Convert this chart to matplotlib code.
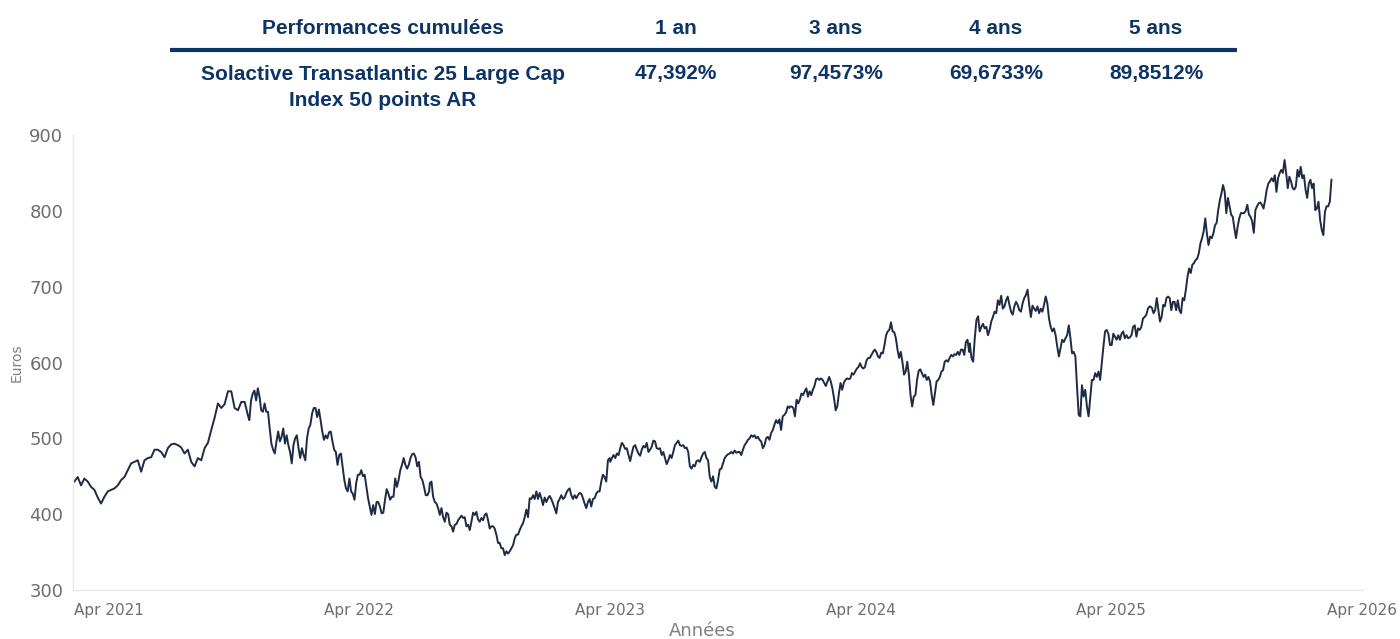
import numpy as np
import pandas as pd
import matplotlib
matplotlib.use('Agg')
from matplotlib import pyplot as plt
from matplotlib.lines import Line2D

# ---- performance table ----
table_title = 'Performances cumulées'
periods = ['1 an', '3 ans', '4 ans', '5 ans']
index_name = ['Solactive Transatlantic 25 Large Cap', 'Index 50 points AR']
perf_values = ['47,392%', '97,4573%', '69,6733%', '89,8512%']

# ---- index level (euros) in pieces ----
seg1_dates = ('2021-04-02', '2021-12-11')
seg1 = [443, 449, 438, 447, 443, 436, 432, 422, 414, 423, 430, 432, 434, 438, 445, 449,
        458, 467, 469, 471, 456, 471, 474, 475, 485, 485, 482, 475, 487, 492, 493, 491,
        488, 480, 485, 469, 463, 474, 471, 487, 494, 511, 527, 546, 540, 545, 562, 562,
        540, 537, 548, 548, 530]

seg2_dates = ('2021-12-13', '2022-09-01')
seg2 = [524, 550, 559, 563, 550, 566, 555, 537, 535, 546, 535, 535, 513, 493, 485, 480,
        496, 509, 496, 502, 513, 493, 504, 491, 482, 467, 491, 500, 504, 487, 474, 487,
        478, 471, 500, 513, 518, 533, 540, 540, 528, 538, 524, 509, 498, 504, 500, 508,
        509, 496, 485, 482, 465, 478, 480, 463, 445, 434, 430, 447, 430, 427, 419, 441,
        452, 452, 458, 450, 452, 436, 421, 410, 399, 412, 400, 416, 416, 410, 401, 402,
        419, 433, 427, 419, 423, 423, 447, 436, 445, 458, 465, 474, 465, 460, 465, 474,
        479, 480, 475, 463, 469, 449, 445, 436, 425, 425, 430]

seg3_dates = ('2022-09-02', '2023-05-22')
seg3 = [441, 443, 423, 416, 414, 408, 399, 408, 396, 390, 402, 400, 386, 384, 377, 386,
        387, 392, 395, 398, 395, 396, 384, 386, 379, 390, 402, 399, 403, 393, 390, 395,
        392, 399, 401, 392, 381, 384, 384, 381, 373, 362, 362, 355, 355, 346, 351, 348,
        351, 355, 359, 368, 373, 373, 379, 384, 388, 396, 406, 396, 421, 420, 425, 420,
        430, 420, 428, 421, 412, 422, 416, 421, 424, 420, 414, 408, 401, 416, 420, 425,
        420, 422, 428, 432, 434, 425, 420, 425, 421, 425, 428, 427, 421, 414, 408, 416,
        420, 410, 420, 421, 427, 430, 430, 443, 452, 449, 443, 471, 474]

seg4_dates = ('2023-05-23', '2024-02-08')
seg4 = [469, 474, 478, 474, 480, 478, 487, 494, 491, 486, 487, 478, 470, 480, 489, 491,
        485, 480, 477, 485, 490, 488, 494, 482, 485, 489, 497, 496, 487, 486, 487, 478,
        482, 474, 466, 471, 478, 474, 482, 491, 494, 497, 491, 490, 491, 487, 488, 482,
        463, 460, 465, 463, 470, 471, 469, 475, 480, 482, 474, 471, 449, 443, 450, 436,
        434, 445, 459, 460, 467, 474, 477, 479, 480, 482, 480, 484, 481, 482, 482, 478,
        485, 491, 494, 498, 500, 504, 502, 504, 500, 502, 498, 496, 487, 491, 500, 502,
        498, 507, 511, 518, 524, 520, 525, 511, 529, 531, 534, 542, 540]

seg5_dates = ('2024-02-09', '2024-10-27')
seg5 = [542, 542, 540, 529, 551, 546, 551, 559, 557, 562, 566, 555, 562, 557, 564, 569,
        578, 579, 577, 579, 577, 573, 569, 575, 581, 575, 566, 553, 537, 542, 559, 573,
        564, 573, 577, 579, 578, 579, 586, 584, 588, 592, 594, 599, 594, 592, 594, 603,
        606, 606, 610, 614, 617, 614, 608, 606, 613, 612, 623, 636, 641, 643, 653, 641,
        640, 632, 617, 606, 614, 601, 584, 588, 601, 584, 557, 542, 555, 557, 577, 589,
        591, 586, 581, 584, 577, 581, 575, 557, 544, 559, 575, 577, 581, 588, 590, 601,
        603, 601, 606, 610, 608, 611, 610, 614, 610, 617, 617, 610, 627, 630, 614]

seg6_dates = ('2024-10-28', '2025-07-17')
seg6 = [625, 606, 601, 632, 656, 661, 641, 647, 651, 645, 647, 636, 643, 654, 660, 667,
        665, 682, 676, 688, 671, 674, 682, 687, 676, 667, 663, 674, 680, 676, 669, 667,
        678, 685, 689, 696, 676, 660, 675, 671, 668, 674, 665, 671, 667, 676, 687, 678,
        658, 647, 641, 645, 636, 621, 608, 619, 630, 627, 632, 636, 649, 632, 612, 614,
        608, 568, 531, 529, 570, 555, 564, 542, 529, 553, 577, 577, 586, 581, 588, 577,
        599, 621, 641, 643, 638, 623, 623, 638, 634, 630, 636, 630, 638, 641, 632, 636,
        632, 633, 636, 647, 649, 634, 645, 643, 647, 658, 660, 663, 671, 674]

seg7_dates = ('2025-07-18', '2026-04-08')
seg7 = [674, 672, 665, 669, 685, 669, 654, 660, 676, 674, 685, 687, 685, 669, 680, 680,
        669, 682, 669, 665, 685, 682, 696, 713, 724, 718, 729, 731, 735, 737, 744, 757,
        764, 773, 790, 770, 755, 766, 764, 770, 781, 784, 801, 814, 823, 834, 825, 797,
        817, 806, 795, 792, 777, 764, 779, 790, 797, 797, 797, 800, 808, 795, 792, 786,
        771, 801, 806, 810, 811, 808, 803, 814, 828, 836, 839, 843, 839, 847, 825, 843,
        850, 854, 850, 867, 850, 830, 845, 839, 830, 828, 832, 854, 845, 858, 843, 847,
        828, 817, 836, 841, 830, 836, 801, 803, 812, 788, 775, 768, 799, 806, 806, 812,
        841]

year_ticks = ['2021-04-01', '2022-04-01', '2023-04-01', '2024-04-01', '2025-04-01', '2026-04-01']
year_labels = ['Apr 2021', 'Apr 2022', 'Apr 2023', 'Apr 2024', 'Apr 2025', 'Apr 2026']
y_ticks = [300, 400, 500, 600, 700, 800, 900]

segments = [(seg1_dates, seg1), (seg2_dates, seg2), (seg3_dates, seg3), (seg4_dates, seg4),
            (seg5_dates, seg5), (seg6_dates, seg6), (seg7_dates, seg7)]
dates = []
values = []
for (start, end), vals in segments:
    dates.extend(pd.date_range(start, end, periods=len(vals)))
    values.extend(vals)
series = pd.Series(values, index=pd.DatetimeIndex(dates))

navy = '#0d3466'
grey = '#6e6e6e'

fig = plt.figure(figsize=(14, 6.39), dpi=100)
ax = fig.add_axes([73/1400, 49/639, 1290/1400, 455/639])

ax.plot(series.index, series.values, color='#1f2a44', lw=1.4)

ax.set_ylim(300, 900)
ax.set_yticks(y_ticks)
ax.set_xlim(pd.Timestamp('2021-03-31'), pd.Timestamp('2026-05-24'))
ax.set_xticks(pd.to_datetime(year_ticks))
ax.set_xticklabels(year_labels, ha='left')
ax.tick_params(axis='x', length=0, pad=9, labelsize=11, labelcolor=grey)
ax.tick_params(axis='y', length=0, pad=7, labelsize=13, labelcolor=grey)
for side in ['top', 'right']:
    ax.spines[side].set_visible(False)
for side in ['left', 'bottom']:
    ax.spines[side].set_color('#e8e8e8')
    ax.spines[side].set_linewidth(1)

fig.text(17/1400, 1 - 363/639, 'Euros', rotation=90, ha='center', va='center',
         fontsize=10, color='#808080')
fig.text(702/1400, 1 - 631/639, 'Années', ha='center', va='center',
         fontsize=13, color='#808080')

# table on top
tfont = dict(family='Liberation Sans', weight='bold', color=navy, fontsize=15,
             ha='center', va='center')
col_x = [676, 836, 996, 1156]
fig.text(383/1400, 1 - 28/639, table_title, **tfont)
for cx, p in zip(col_x, periods):
    fig.text(cx/1400, 1 - 28/639, p, **tfont)
fig.add_artist(Line2D([170/1400, 1237/1400], [1 - 50/639, 1 - 50/639],
                      color=navy, lw=3, solid_capstyle='butt'))
fig.text(383/1400, 1 - 74/639, index_name[0], **tfont)
fig.text(383/1400, 1 - 101/639, index_name[1], **tfont)
for cx, v in zip(col_x, perf_values):
    fig.text(cx/1400, 1 - 74/639, v, **tfont)

fig.savefig('out.png', dpi=100)
